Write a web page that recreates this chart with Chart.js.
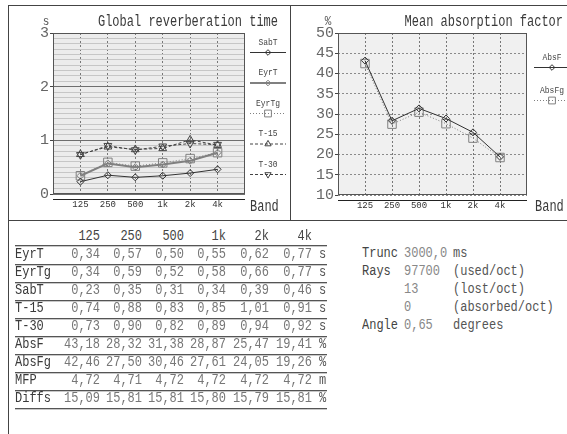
<!DOCTYPE html>
<html>
<head>
<meta charset="utf-8">
<script src="https://cdn.jsdelivr.net/npm/chart.js@4.4.1/dist/chart.umd.min.js"></script>
<style>
  html, body { margin: 0; padding: 0; background: #fff; }
  #page { position: relative; width: 567px; height: 434px; overflow: hidden; font-family: "Liberation Mono", monospace; }
  canvas { position: absolute; top: 0; }
  .ln { position: absolute; background: #444; }
  .t { position: absolute; white-space: pre; font-size: 12px; line-height: 14px; transform: scaleY(1.15); }
  .rule { position: absolute; left: 15px; width: 312px; height: 1px; background: #555; box-shadow: 0 1px 0 #c8c8c8; }
</style>
</head>
<body>
<div id="page">
  <canvas id="rtChart" width="290" height="220" style="left:0px"></canvas>
  <canvas id="absChart" width="277" height="220" style="left:290px"></canvas>
  <div class="ln" style="left:8px;top:5px;width:559px;height:1px"></div>
  <div class="ln" style="left:8px;top:5px;width:1px;height:429px"></div>
  <div class="ln" style="left:290px;top:5px;width:1px;height:215px"></div>
  <div class="ln" style="left:8px;top:220px;width:559px;height:1px"></div>
  <div id="table"></div>
  <div id="info"></div>
</div>
<script>
const bands = ["125", "250", "500", "1k", "2k", "4k"];

const eyrT  = [0.34, 0.57, 0.50, 0.55, 0.62, 0.77];
const eyrTg = [0.34, 0.59, 0.52, 0.58, 0.66, 0.77];
const sabT  = [0.23, 0.35, 0.31, 0.34, 0.39, 0.46];
const t15   = [0.74, 0.88, 0.83, 0.85, 1.01, 0.91];
const t30   = [0.73, 0.90, 0.82, 0.89, 0.94, 0.92];
const absF  = [43.18, 28.32, 31.38, 28.87, 25.47, 19.41];
const absFg = [42.46, 27.50, 30.46, 27.61, 24.05, 19.26];
const mfp   = [4.72, 4.71, 4.72, 4.72, 4.72, 4.72];
const diffs = [15.09, 15.81, 15.81, 15.80, 15.79, 15.81];

const rowNames = ["EyrT", "EyrTg", "SabT", "T-15", "T-30", "AbsF", "AbsFg", "MFP", "Diffs"];
const rowUnits = ["s", "s", "s", "s", "s", "%", "%", "m", "%"];
const rowValues = [eyrT, eyrTg, sabT, t15, t30, absF, absFg, mfp, diffs];

const infoLabels = ["Trunc", "Rays", "", "", "Angle"];
const infoValues = ["3000,0", "97700", "13", "0", "0,65"];
const infoNotes  = ["ms", "(used/oct)", "(lost/oct)", "(absorbed/oct)", "degrees"];

const MONO = "'Liberation Mono', monospace";

function pts(arr) { return arr.map((v, i) => ({ x: i + 1, y: v })); }
function isInt(v) { return Math.abs(v - Math.round(v)) < 1e-6; }
function fmt(v) { return v.toFixed(2).replace(".", ","); }

function stretchText(ctx, text, x, y, align, size, sy, color) {
  ctx.save();
  ctx.translate(x, y);
  ctx.scale(1, sy);
  ctx.font = size + "px " + MONO;
  ctx.fillStyle = color;
  ctx.textAlign = align;
  ctx.textBaseline = "middle";
  ctx.fillText(text, 0, 0);
  ctx.restore();
}

function marker(ctx, style, r, rot, x, y) {
  let rad = (rot || 0) * Math.PI / 180;
  ctx.beginPath();
  if (style === "rect") {
    const s = r * Math.SQRT1_2;
    ctx.rect(x - s, y - s, 2 * s, 2 * s);
  } else if (style === "rectRot") {
    ctx.moveTo(x, y - r); ctx.lineTo(x + r, y); ctx.lineTo(x, y + r); ctx.lineTo(x - r, y);
    ctx.closePath();
  } else {
    ctx.moveTo(x + Math.sin(rad) * r, y - Math.cos(rad) * r);
    rad += 2 * Math.PI / 3;
    ctx.lineTo(x + Math.sin(rad) * r, y - Math.cos(rad) * r);
    rad += 2 * Math.PI / 3;
    ctx.lineTo(x + Math.sin(rad) * r, y - Math.cos(rad) * r);
    ctx.closePath();
  }
  ctx.stroke();
}

// background, plot frame, offset axis line, titles and the stacked legend
const deco = {
  id: "deco",
  beforeDraw(chart, args, o) {
    const { ctx, chartArea: a } = chart;
    ctx.save();
    ctx.fillStyle = o.bg;
    ctx.fillRect(a.left, a.top, a.right - a.left, a.bottom - a.top);
    ctx.restore();
  },
  afterDraw(chart, args, o) {
    const { ctx, chartArea: a } = chart;
    ctx.save();
    ctx.lineWidth = 1;
    ctx.strokeStyle = "#555";
    ctx.strokeRect(a.left + 0.5, a.top + 0.5, a.right - a.left - 1, a.bottom - a.top - 1);
    ctx.strokeStyle = "#222";
    ctx.beginPath();
    ctx.moveTo(a.left, a.bottom + 5.5);
    ctx.lineTo(a.right, a.bottom + 5.5);
    ctx.stroke();

    stretchText(ctx, o.title, o.titleX, 22, "right", 12, 1.3, "#3a3a3a");
    stretchText(ctx, o.unit, o.unitX, 22, "center", 11, 1.2, "#555");
    stretchText(ctx, "Band", o.bandX, 207, "left", 12, 1.3, "#3a3a3a");

    chart.data.datasets.forEach((ds, i) => {
      const ty = o.legendY + i * o.legendStep;
      const ly = ty + 10.5;
      stretchText(ctx, ds.label, o.legendX, ty, "center", 8, 1.2, "#444");
      ctx.strokeStyle = ds.borderColor;
      ctx.lineWidth = ds.borderWidth;
      ctx.setLineDash(ds.borderDash || []);
      ctx.beginPath();
      ctx.moveTo(o.legendX - o.legendHalf, ly);
      ctx.lineTo(o.legendX + o.legendHalf, ly);
      ctx.stroke();
      ctx.setLineDash([]);
      ctx.lineWidth = 1;
      marker(ctx, ds.pointStyle, ds.pointRadius * 0.8, ds.pointRotation, o.legendX, ly);
    });
    ctx.restore();
  }
};

function line(label, data, color, width, dash, style, radius, rot) {
  return {
    label: label, data: pts(data), borderColor: color, borderWidth: width, borderDash: dash,
    pointStyle: style, pointRadius: radius, pointRotation: rot || 0,
    pointBorderColor: color, pointBackgroundColor: "rgba(0,0,0,0)", pointBorderWidth: 1,
    tension: 0, fill: false
  };
}

function xScale(height) {
  return {
    type: "linear", min: 0, max: 7,
    afterFit(s) { s.height = height; },
    ticks: { stepSize: 1, autoSkip: false, maxRotation: 0, padding: 5, color: "#333",
      font: { family: MONO, size: 9 }, callback: v => bands[v - 1] || "" },
    grid: { color: c => (c.tick.value >= 1 && c.tick.value <= 6) ? "#777" : "rgba(0,0,0,0)", drawTicks: false },
    border: { display: false, dash: [2, 2] }
  };
}

new Chart(document.getElementById("rtChart"), {
  type: "line",
  data: {
    datasets: [
      line("SabT", sabT, "#333", 1, [], "rectRot", 3.5),
      line("EyrT", eyrT, "#808080", 2, [], "rectRot", 3.5),
      line("EyrTg", eyrTg, "#808080", 1, [1, 2], "rect", 6),
      line("T-15", t15, "#444", 1, [3, 2], "triangle", 4.5),
      line("T-30", t30, "#444", 1, [3, 2], "triangle", 4.5, 180)
    ]
  },
  options: {
    responsive: false, animation: false, devicePixelRatio: 1, events: [],
    layout: { padding: { left: 0, top: 33, right: 45, bottom: 0 } },
    scales: {
      x: xScale(26),
      y: {
        min: 0, max: 3,
        afterFit(s) { s.width = 53; },
        ticks: { stepSize: 0.1, autoSkip: false, padding: 1, color: "#666",
          font: { family: MONO, size: 15 }, callback: v => isInt(v) ? String(Math.round(v)) : "" },
        grid: { color: c => isInt(c.tick.value) ? "#6e6e6e" : "#c6c6c6", tickLength: 3,
          tickColor: c => isInt(c.tick.value) ? "#444" : "rgba(0,0,0,0)" },
        border: { display: false }
      }
    },
    plugins: {
      legend: { display: false }, tooltip: { enabled: false },
      deco: { bg: "#ececec", title: "Global reverberation time", titleX: 278, unit: "s", unitX: 46,
        bandX: 250, legendX: 268, legendY: 42, legendStep: 30.5, legendHalf: 18 }
    }
  },
  plugins: [deco]
});

new Chart(document.getElementById("absChart"), {
  type: "line",
  data: {
    datasets: [
      line("AbsF", absF, "#333", 1, [], "rectRot", 3.5),
      line("AbsFg", absFg, "#808080", 1, [1, 2], "rect", 6)
    ]
  },
  options: {
    responsive: false, animation: false, devicePixelRatio: 1, events: [],
    layout: { padding: { left: 0, top: 33, right: 40, bottom: 0 } },
    scales: {
      x: xScale(25),
      y: {
        min: 10, max: 50,
        afterFit(s) { s.width = 48; },
        ticks: { stepSize: 5, autoSkip: false, padding: 1, color: "#666", font: { family: MONO, size: 15 } },
        grid: { color: "#8a8a8a", tickLength: 3, tickColor: "#444" },
        border: { display: false, dash: [2, 2] }
      }
    },
    plugins: {
      legend: { display: false }, tooltip: { enabled: false },
      deco: { bg: "#f0f0f0", title: "Mean absorption factor", titleX: 273, unit: "%", unitX: 38,
        bandX: 245, legendX: 262, legendY: 57, legendStep: 33, legendHalf: 18 }
    }
  },
  plugins: [deco]
});

// value table
const colRight = [100, 142, 184, 226, 269, 312];
const table = document.getElementById("table");
function put(parent, text, x, y, color, right) {
  const d = document.createElement("div");
  d.className = "t";
  d.textContent = text;
  d.style.top = (y - 7) + "px";
  d.style.color = color;
  if (right) { d.style.right = (567 - x) + "px"; } else { d.style.left = x + "px"; }
  parent.appendChild(d);
}
bands.forEach((b, j) => put(table, b, colRight[j], 237, "#444", true));
const hr = document.createElement("div");
hr.className = "rule"; hr.style.top = "245px"; table.appendChild(hr);
rowNames.forEach((name, i) => {
  const y = 255 + i * 18;
  put(table, name, 15, y, "#3a3a3a", false);
  rowValues[i].forEach((v, j) => put(table, fmt(v), colRight[j], y, "#777", true));
  put(table, rowUnits[i], 319, y, "#555", false);
  const r = document.createElement("div");
  r.className = "rule"; r.style.top = (y + 9) + "px"; table.appendChild(r);
});

// ray tracing info
const info = document.getElementById("info");
infoLabels.forEach((lab, i) => {
  const y = 254 + i * 18;
  put(info, lab, 362, y, "#444", false);
  put(info, infoValues[i], 404, y, "#888", false);
  put(info, infoNotes[i], 453, y, "#555", false);
});
</script>
</body>
</html>
